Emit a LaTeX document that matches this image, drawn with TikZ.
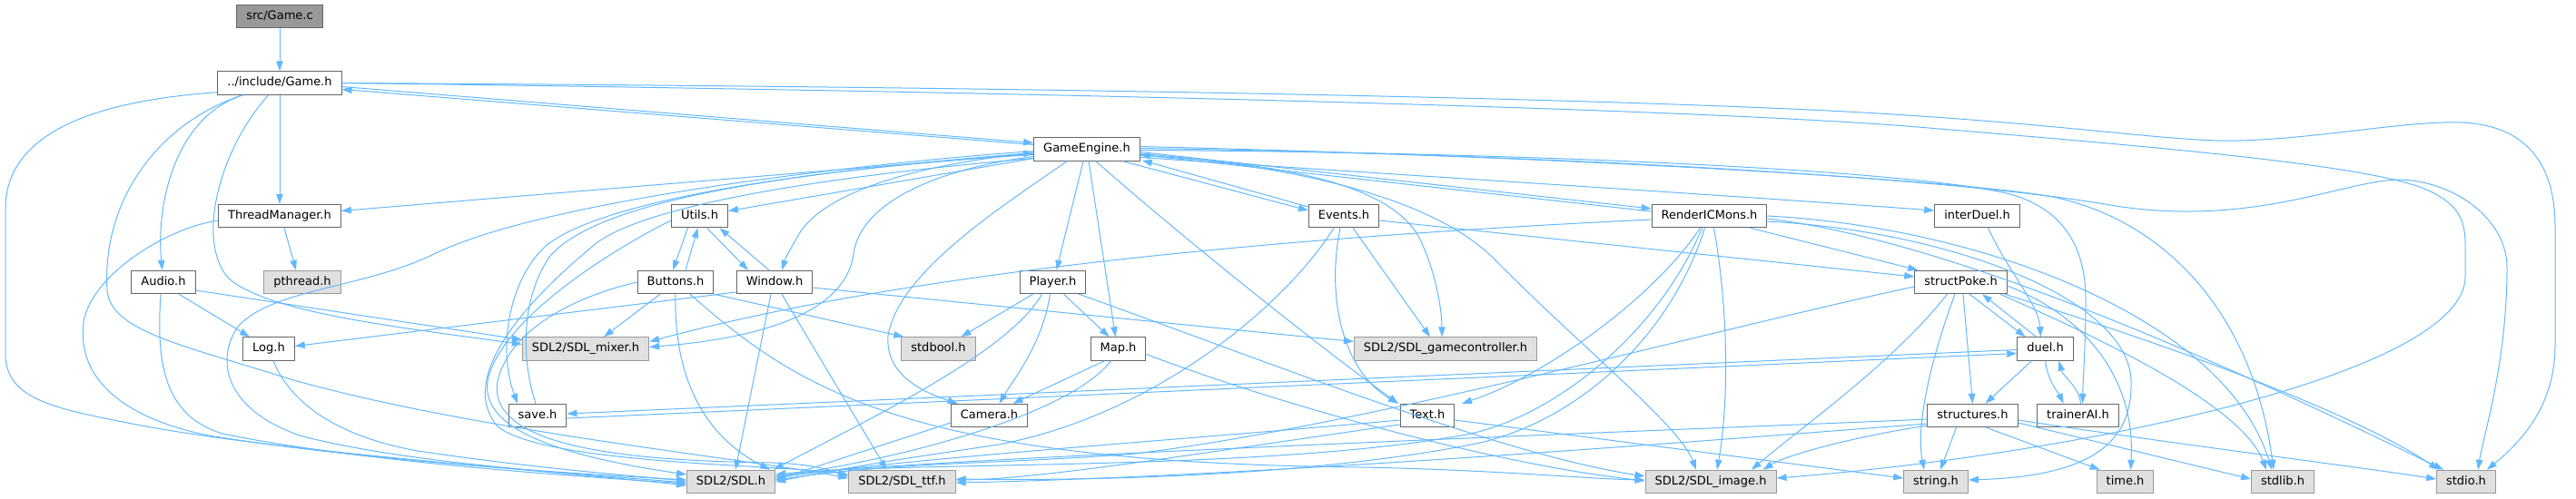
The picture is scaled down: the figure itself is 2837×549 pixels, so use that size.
\documentclass[tikz,border=0pt]{standalone}
\usepackage{fontspec}
\setmainfont{DejaVu Sans}
\usetikzlibrary{arrows.meta}
\definecolor{edgec}{HTML}{63B8FF}
\definecolor{ndborder}{HTML}{666666}
\definecolor{extborder}{HTML}{999999}
\definecolor{extfill}{HTML}{E0E0E0}
\definecolor{mainfill}{HTML}{999999}
\newcommand\nodefont{\fontsize{13}{15}\selectfont}
\tikzset{
 hnode/.style={draw=ndborder, fill=white, line width=1pt, minimum height=25.5pt, inner xsep=10.5pt, inner ysep=0pt, text height=9.6pt, text depth=2.8pt, font=\nodefont},
 xnode/.style={hnode, draw=extborder, fill=extfill},
 mnode/.style={hnode, fill=mainfill},
 edg/.style={draw=edgec, line width=1pt, -{Triangle[length=11pt,width=7.5pt]}},
}
\begin{document}
\begin{tikzpicture}[x=1pt,y=-1pt]
\useasboundingbox (0,0) rectangle (2837,549);
% nodes
\node[mnode] (srcgame) at (308,18) {src/Game.c};
\node[hnode] (gameh) at (308,91.5) {../include/Game.h};
\node[hnode] (ge) at (1197,164.5) {GameEngine.h};
\node[hnode] (tm) at (308,238) {ThreadManager.h};
\node[hnode] (utils) at (770.5,238) {Utils.h};
\node[hnode] (events) at (1480,238) {Events.h};
\node[hnode] (ricm) at (1882.5,238) {RenderICMons.h};
\node[hnode] (interduel) at (2177.5,238) {interDuel.h};
\node[hnode] (audio) at (180,311) {Audio.h};
\node[xnode] (pthread) at (333,311) {pthread.h};
\node[hnode] (buttons) at (744,311) {Buttons.h};
\node[hnode] (window) at (853,311) {Window.h};
\node[hnode] (player) at (1159.5,311) {Player.h};
\node[hnode] (structpoke) at (2159.5,311) {structPoke.h};
\node[hnode] (logh) at (296,384.5) {Log.h};
\node[xnode] (mixer) at (645,384.5) {SDL2/SDL\_mixer.h};
\node[xnode] (stdbool) at (1033.5,384.5) {stdbool.h};
\node[hnode] (maph) at (1231.5,384.5) {Map.h};
\node[xnode] (gamectl) at (1592,384.5) {SDL2/SDL\_gamecontroller.h};
\node[hnode] (duel) at (2252.5,384.5) {duel.h};
\node[hnode] (save) at (592,458) {save.h};
\node[hnode] (camera) at (1089.5,458) {Camera.h};
\node[hnode] (textnd) at (1572,458) {Text.h};
\node[hnode] (structures) at (2172.5,458) {structures.h};
\node[hnode] (trainer) at (2288.5,458) {trainerAI.h};
\node[xnode] (sdl) at (805,531) {SDL2/SDL.h};
\node[xnode] (ttf) at (993.5,531) {SDL2/SDL\_ttf.h};
\node[xnode] (image) at (1884,531) {SDL2/SDL\_image.h};
\node[xnode] (strh) at (2132,531) {string.h};
\node[xnode] (timeh) at (2340.5,531) {time.h};
\node[xnode] (stdlib) at (2514,531) {stdlib.h};
\node[xnode] (stdio) at (2716,531) {stdio.h};
% Game.c / Game.h
\draw[edg] (srcgame) -- (gameh);
\draw[edg] ([shift={(0,4)}]gameh.east) -- ([shift={(0,-7)}]ge.west);
\draw[edg] ([shift={(0,-5)}]ge.west) -- ([shift={(0,7)}]gameh.east);
\draw[edg] (gameh) -- (tm);
\draw[edg] (gameh) .. controls (190,130) and (172,230) .. (audio);
\draw[edg] ([shift={(0,-3)}]gameh.south west) .. controls (120,110) and (6,140) .. (6,230) -- (6,390) .. controls (6,440) and (60,450) .. (140,466) .. controls (300,498) and (600,518) .. ([shift={(0,4)}]sdl.west);
\draw[edg] (gameh) .. controls (175,135) and (112,220) .. (118,320) .. controls (122,365) and (200,380) .. (320,418) .. controls (520,475) and (820,505) .. ([shift={(0,-4)}]ttf.west);
\draw[edg] (gameh) .. controls (245,160) and (215,260) .. (250,305) .. controls (290,345) and (450,362) .. ([shift={(0,-5)}]mixer.west);
\draw[edg] (gameh.east) .. controls (1200,102) and (1850,120) .. (2100,139) .. controls (2350,160) and (2600,180) .. (2670,208) .. controls (2710,225) and (2715,245) .. (2715,270) -- (2715,305) .. controls (2715,410) and (2300,500) .. ([shift={(0,-4)}]image.east);
\draw[edg] (gameh.east) .. controls (1200,96) and (1850,110) .. (2100,127) .. controls (2300,140) and (2400,157) .. (2467,155) .. controls (2560,152) and (2650,133) .. (2710,135) .. controls (2790,138) and (2814,190) .. (2814,250) -- (2814,380) .. controls (2814,440) and (2785,480) .. ([shift={(-10,0)}]stdio.north east);
% ThreadManager, Audio, Log
\draw[edg] ([shift={(5,0)}]tm.south) -- ([shift={(-7,0)}]pthread.north);
\draw[edg] ([shift={(0,5)}]tm.west) .. controls (180,252) and (100,305) .. (92,355) .. controls (84,420) and (140,462) .. (230,480) .. controls (400,508) and (650,523) .. ([shift={(0,-2)}]sdl.west);
\draw[edg] ([shift={(17,0)}]audio.south) -- ([shift={(-21,0)}]logh.north);
\draw[edg] ([shift={(0,9)}]audio.east) -- ([shift={(0,-10)}]mixer.west);
\draw[edg] ([shift={(-3,0)}]audio.south) .. controls (172,400) and (180,458) .. (245,478) .. controls (400,510) and (650,526) .. ([shift={(0,2)}]sdl.west);
\draw[edg] ([shift={(5,0)}]logh.south) .. controls (318,440) and (365,480) .. (460,497) .. controls (580,515) and (690,524) .. ([shift={(0,-1)}]sdl.west);
% GameEngine left side
\draw[edg] (ge) -- (tm);
\draw[edg] (ge) -- (utils);
\draw[edg] ([shift={(0,4)}]ge.west) .. controls (1000,182) and (905,215) .. (880,258) .. controls (872,272) and (866,282) .. ([shift={(8,0)}]window.north);
\draw[edg] ([shift={(0,6)}]ge.west) .. controls (900,185) and (660,220) .. (600,272) .. controls (560,310) and (548,385) .. ([shift={(-22,0)}]save.north);
\draw[edg] ([shift={(-2,0)}]save.north) .. controls (575,400) and (572,330) .. (606,282) .. controls (665,215) and (900,188) .. ([shift={(0,4)}]ge.west);
\draw[edg] ([shift={(0,8)}]ge.west) .. controls (1040,185) and (948,220) .. (940,280) .. controls (932,340) and (850,372) .. ([shift={(0,-2)}]mixer.east);
\draw[edg] ([shift={(0,2)}]ge.west) .. controls (950,180) and (600,220) .. (478,280) .. controls (400,318) and (300,318) .. (262,360) .. controls (238,395) and (245,450) .. (330,480) .. controls (450,512) and (660,524) .. ([shift={(0,1)}]sdl.west);
\draw[edg] ([shift={(0,10)}]ge.west) .. controls (900,195) and (700,228) .. (652,272) .. controls (570,340) and (505,420) .. (548,470) .. controls (600,512) and (860,512) .. ([shift={(0,-8)}]ttf.west);
% Utils, Buttons, Window
\draw[edg] ([shift={(-13,0)}]utils.south) -- ([shift={(-3,0)}]buttons.north);
\draw[edg] ([shift={(11,0)}]buttons.north) -- ([shift={(-2,0)}]utils.south);
\draw[edg] ([shift={(8,0)}]utils.south) -- ([shift={(-29,0)}]window.north);
\draw[edg] ([shift={(-6,0)}]window.north) -- ([shift={(22,0)}]utils.south);
\draw[edg] ([shift={(0,5)}]utils.west) .. controls (700,262) and (560,340) .. (538,415) .. controls (525,468) and (600,500) .. ([shift={(0,-8)}]sdl.west);
\draw[edg] ([shift={(-17,0)}]buttons.south) -- ([shift={(20,0)}]mixer.north);
\draw[edg] (buttons.south east) -- ([shift={(3,0)}]stdbool.north west);
\draw[edg] (buttons.west) .. controls (640,325) and (562,360) .. (548,420) .. controls (535,495) and (700,508) .. (850,510) .. controls (890,511) and (915,518) .. ([shift={(0,-6)}]ttf.west);
\draw[edg] (buttons.south) .. controls (742,400) and (765,475) .. ([shift={(-6,0)}]sdl.north east);
\draw[edg] ([shift={(16,0)}]buttons.south) .. controls (880,430) and (1000,510) .. (1500,515) .. controls (1650,518) and (1750,528) .. ([shift={(0,-2)}]image.west);
\draw[edg] ([shift={(0,11)}]window.west) -- ([shift={(0,-3)}]logh.east);
\draw[edg] ([shift={(0,6)}]window.east) -- ([shift={(0,-8)}]gamectl.west);
\draw[edg] ([shift={(-4,0)}]window.south) -- ([shift={(5,0)}]sdl.north);
\draw[edg] ([shift={(8,0)}]window.south) -- ([shift={(-17,0)}]ttf.north);
% GameEngine downward
\draw[edg] ([shift={(-4,0)}]ge.south) -- ([shift={(4,0)}]player.north);
\draw[edg] ([shift={(2,0)}]ge.south) -- ([shift={(-3,0)}]maph.north);
\draw[edg] ([shift={(-22,0)}]ge.south) .. controls (1100,230) and (990,300) .. (978,370) .. controls (975,410) and (1010,430) .. ([shift={(-35,0)}]camera.north);
\draw[edg] ([shift={(10,0)}]ge.south) .. controls (1300,260) and (1450,380) .. ([shift={(-32,0)}]textnd.north);
% Player, Map, Camera
\draw[edg] ([shift={(-22,0)}]player.south) -- ([shift={(25,0)}]stdbool.north);
\draw[edg] ([shift={(-12,0)}]player.south) .. controls (1110,390) and (950,465) .. ([shift={(-2,0)}]sdl.north east);
\draw[edg] ([shift={(-3,0)}]player.south) .. controls (1148,380) and (1115,420) .. ([shift={(11,0)}]camera.north);
\draw[edg] ([shift={(12,0)}]player.south) -- ([shift={(-10,0)}]maph.north);
\draw[edg] ([shift={(-8,0)}]player.south east) .. controls (1400,400) and (1650,500) .. ([shift={(0,-6)}]image.west);
\draw[edg] ([shift={(-15,0)}]maph.south) -- ([shift={(26,0)}]camera.north);
\draw[edg] ([shift={(-8,0)}]maph.south) .. controls (1180,455) and (1000,505) .. ([shift={(0,-6)}]sdl.east);
\draw[edg] ([shift={(0,6)}]maph.east) .. controls (1420,450) and (1650,512) .. ([shift={(0,-1)}]image.west);
\draw[edg] ([shift={(0,8)}]camera.west) -- ([shift={(0,-2)}]sdl.east);
% Text
\draw[edg] ([shift={(0,5)}]textnd.west) .. controls (1300,485) and (1000,505) .. ([shift={(0,-4)}]sdl.east);
\draw[edg] ([shift={(0,10)}]textnd.west) .. controls (1350,495) and (1150,528) .. ([shift={(0,-2)}]ttf.east);
\draw[edg] ([shift={(0,5)}]textnd.east) -- ([shift={(0,-4)}]strh.west);
% Events
\draw[edg] ([shift={(-19,0)}]ge.south east) -- ([shift={(0,-6)}]events.west);
\draw[edg] ([shift={(0,-10)}]events.west) -- ([shift={(2,-1)}]ge.south east);
\draw[edg] ([shift={(-4,0)}]events.south) .. controls (1460,330) and (1480,410) .. ([shift={(-32,0)}]textnd.north);
\draw[edg] ([shift={(10,0)}]events.south) -- ([shift={(-17,0)}]gamectl.north);
\draw[edg] ([shift={(-11,0)}]events.south) .. controls (1420,330) and (1280,455) .. (1100,490) .. controls (1020,502) and (960,510) .. ([shift={(0,0)}]sdl.east);
\draw[edg] ([shift={(0,5)}]events.east) -- ([shift={(0,-6)}]structpoke.west);
% GameEngine right side
\draw[edg] ([shift={(0,3)}]ge.east) -- ([shift={(0,-8)}]ricm.west);
\draw[edg] ([shift={(0,-5)}]ricm.west) -- ([shift={(0,6)}]ge.east);
\draw[edg] ([shift={(0,9)}]ge.east) .. controls (1500,190) and (1900,215) .. ([shift={(0,-6)}]interduel.west);
\draw[edg] ([shift={(0,7)}]ge.east) .. controls (1420,180) and (1530,205) .. (1562,260) .. controls (1580,295) and (1588,340) .. ([shift={(-4,0)}]gamectl.north);
\draw[edg] ([shift={(0,5)}]ge.east) .. controls (1450,185) and (1590,225) .. (1650,290) .. controls (1750,390) and (1850,470) .. ([shift={(-16,0)}]image.north);
\draw[edg] ([shift={(0,1)}]ge.east) .. controls (1700,168) and (2100,188) .. (2210,213) .. controls (2270,228) and (2297,270) .. (2297,330) .. controls (2297,380) and (2294,420) .. ([shift={(5,0)}]trainer.north);
\draw[edg] ([shift={(0,-1)}]ge.east) .. controls (1700,170) and (2150,195) .. (2330,227) .. controls (2480,250) and (2580,200) .. (2640,198) .. controls (2700,198) and (2761,240) .. (2761,295) .. controls (2761,400) and (2735,480) .. ([shift={(13,0)}]stdio.north);
\draw[edg] ([shift={(0,-3)}]ge.east) .. controls (1700,172) and (2150,197) .. (2261,217) .. controls (2380,242) and (2480,340) .. ([shift={(-10,0)}]stdlib.north);
% RenderICMons
\draw[edg] ([shift={(0,4)}]ricm.west) .. controls (1400,262) and (1000,300) .. ([shift={(0,-8)}]mixer.east);
\draw[edg] ([shift={(-10,0)}]ricm.south) .. controls (1820,330) and (1700,415) .. ([shift={(38,0)}]textnd.north);
\draw[edg] ([shift={(-8,0)}]ricm.south) .. controls (1830,360) and (1720,455) .. (1620,478) .. controls (1400,520) and (1000,508) .. ([shift={(0,-8)}]sdl.east);
\draw[edg] ([shift={(-5,0)}]ricm.south) .. controls (1840,370) and (1740,462) .. (1630,488) .. controls (1450,525) and (1200,530) .. ([shift={(0,-3)}]ttf.east);
\draw[edg] ([shift={(5,0)}]ricm.south) .. controls (1905,350) and (1903,450) .. ([shift={(7,0)}]image.north);
\draw[edg] ([shift={(45,0)}]ricm.south) -- ([shift={(4,0)}]structpoke.north west);
\draw[edg] ([shift={(0,3)}]ricm.east) .. controls (2150,265) and (2450,400) .. ([shift={(-25,0)}]stdio.north);
\draw[edg] (ricm.east) .. controls (2180,250) and (2450,350) .. ([shift={(-12,0)}]stdlib.north);
\draw[edg] ([shift={(0,6)}]ricm.east) .. controls (2150,255) and (2345,330) .. (2347,420) .. controls (2349,490) and (2300,525) .. ([shift={(0,-2)}]strh.east);
% interDuel, structPoke, duel
\draw[edg] ([shift={(12,0)}]interduel.south) .. controls (2212,300) and (2245,335) .. ([shift={(-5,0)}]duel.north);
\draw[edg] ([shift={(2.5,0)}]structpoke.south) -- (structures.north);
\draw[edg] ([shift={(9.5,0)}]structpoke.south) -- ([shift={(-22,0)}]duel.north);
\draw[edg] ([shift={(-10,0)}]duel.north) -- ([shift={(23.5,0)}]structpoke.south);
\draw[edg] ([shift={(-6.5,0)}]structpoke.south) .. controls (2125,400) and (2110,470) .. ([shift={(-13,0)}]strh.north);
\draw[edg] ([shift={(-15,0)}]structpoke.south) .. controls (2085,400) and (1985,470) .. ([shift={(45,0)}]image.north);
\draw[edg] ([shift={(0,5)}]structpoke.west) .. controls (1900,360) and (1500,470) .. (1250,500) .. controls (1100,512) and (1000,508) .. ([shift={(0,-2)}]sdl.east);
\draw[edg] ([shift={(-8,0)}]structpoke.south east) .. controls (2330,380) and (2470,450) .. ([shift={(-18,0)}]stdlib.north);
\draw[edg] ([shift={(-3,0)}]structpoke.south east) .. controls (2420,390) and (2600,460) .. ([shift={(-30,0)}]stdio.north);
\draw[edg] ([shift={(0,4)}]structpoke.east) .. controls (2300,350) and (2352,420) .. ([shift={(6,0)}]timeh.north);
\draw[edg] ([shift={(0,1)}]duel.west) -- ([shift={(0,-2)}]save.east);
\draw[edg] ([shift={(0,3)}]save.east) -- ([shift={(0,5)}]duel.west);
\draw[edg] ([shift={(-15,0)}]duel.south) -- ([shift={(14,0)}]structures.north);
\draw[edg] (duel.south) .. controls (2255,420) and (2268,435) .. ([shift={(-16,0)}]trainer.north);
\draw[edg] ([shift={(3,0)}]trainer.north) .. controls (2289,425) and (2272,415) .. ([shift={(15,0)}]duel.south);
% structures
\draw[edg] ([shift={(-18,0)}]structures.south) -- ([shift={(5,0)}]strh.north);
\draw[edg] ([shift={(15,0)}]structures.south) -- ([shift={(4,0)}]timeh.north west);
\draw[edg] ([shift={(0,8)}]structures.east) -- ([shift={(0,-3)}]stdlib.west);
\draw[edg] ([shift={(0,5)}]structures.east) .. controls (2400,490) and (2600,515) .. ([shift={(0,-3)}]stdio.west);
\draw[edg] ([shift={(0,4)}]structures.west) .. controls (1950,470) and (1000,505) .. ([shift={(0,-6)}]sdl.east);
\draw[edg] ([shift={(0,9)}]structures.west) .. controls (1950,480) and (1400,525) .. ([shift={(0,1)}]ttf.east);
\draw[edg] ([shift={(0,11)}]structures.west) .. controls (2050,480) and (1970,500) .. ([shift={(-15,0)}]image.north east);
\end{tikzpicture}
\end{document}
